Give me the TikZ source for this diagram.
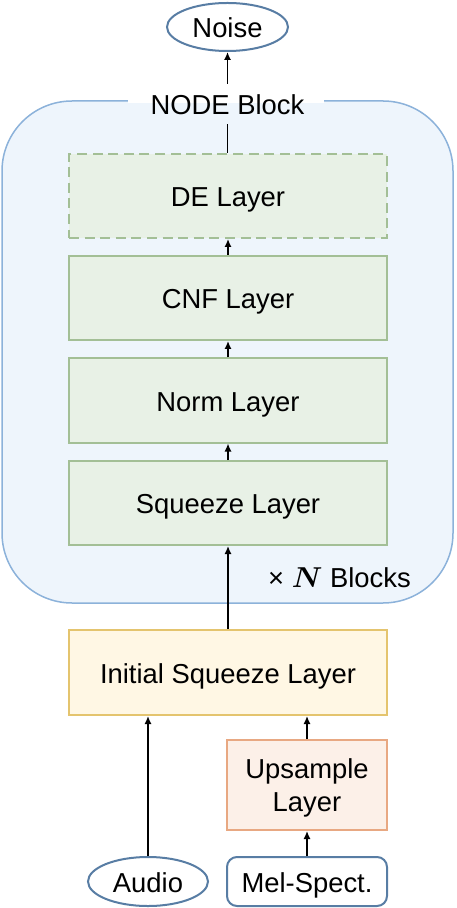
\documentclass[tikz,border=0pt]{standalone}
\usepackage{amsmath}
\usepackage{bm}
\usepackage{fontspec}
\setmainfont{Liberation Sans}
\usetikzlibrary{shapes.geometric,arrows.meta}
\definecolor{contfill}{HTML}{EEF5FC}
\definecolor{contline}{HTML}{8CB2DA}
\definecolor{grfill}{HTML}{E8F1E6}
\definecolor{grline}{HTML}{A3BF96}
\definecolor{yefill}{HTML}{FFF7E4}
\definecolor{yeline}{HTML}{E4C46E}
\definecolor{orfill}{HTML}{FCF0E8}
\definecolor{orline}{HTML}{E8A882}
\definecolor{ioline}{HTML}{587DA4}
\begin{document}
\begin{tikzpicture}[x=0.5pt,y=-0.5pt,
  every node/.style={font=\fontsize{13.7}{16.5}\selectfont, inner sep=0pt, text height=11.8pt, text depth=1.3pt},
  greenbox/.style={draw=grline, fill=grfill, line width=1pt, minimum width=159pt, minimum height=42pt},
  iobox/.style={draw=ioline, line width=1pt, fill=white},
  conn/.style={line width=0.95pt, -{Latex[length=4pt,width=3.6pt]}}
]
\useasboundingbox (0,0) rectangle (456,908);
% container
\draw[fill=contfill, draw=contline, line width=0.75pt, rounded corners=35pt] (2,101) rectangle (453,603);
% nodes
\node[ellipse, iobox, minimum width=60.5pt, minimum height=24pt] (noise) at (227.5,27) {Noise};
\node[greenbox, dashed, dash pattern=on 5pt off 2.8pt] (de) at (228,196) {DE Layer};
\node[greenbox] (cnf) at (228,298) {CNF Layer};
\node[greenbox] (norm) at (228,400.5) {Norm Layer};
\node[greenbox] (sq) at (228,503) {Squeeze Layer};
\node[draw=yeline, fill=yefill, line width=1pt, minimum width=159pt, minimum height=42.5pt] (init) at (228,672.5) {Initial Squeeze Layer};
\node[draw=orline, fill=orfill, line width=1pt, minimum width=80pt, minimum height=45pt, align=center, text height=28pt, text depth=1.3pt] (up) at (307,785) {Upsample\\Layer};
\node[ellipse, iobox, minimum width=60pt, minimum height=24.5pt] (audio) at (148,881.5) {Audio};
\node[iobox, rounded corners=5pt, minimum width=80pt, minimum height=24.5pt] (mel) at (307,881.5) {Mel-Spect.};
% connectors
\coordinate (lbl) at (227.5,104);
\draw[conn] (de.north -| noise.south) -- (noise.south);
\draw[conn] (cnf.north) -- (de.south);
\draw[conn] (norm.north) -- (cnf.south);
\draw[conn] (sq.north) -- (norm.south);
\draw[conn] (init.north) -- (sq.south);
\draw[conn] (audio.north) -- (audio.north |- init.south);
\draw[conn] (up.north) -- (up.north |- init.south);
\draw[conn] (mel.north) -- (up.south);
% label on container border
\fill[contfill] (128,103) rectangle (324,124);
\fill[white] (128,84) rectangle (324,103);
\node (nodelbl) at (lbl) {NODE Block};
\node (nblocks) at (339.5,577) {× $\bm{N}$ Blocks};
\end{tikzpicture}
\end{document}
